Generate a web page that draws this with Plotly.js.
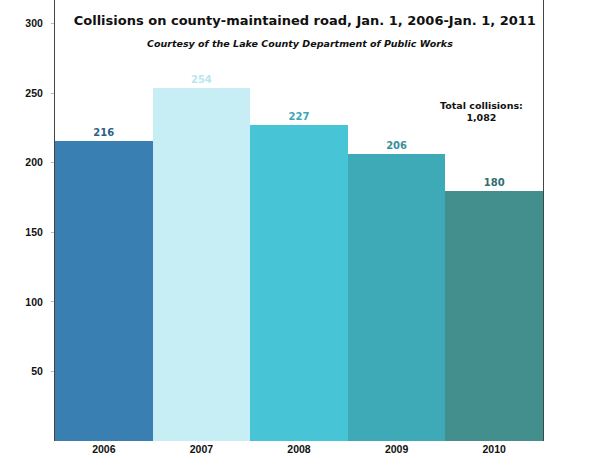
<!DOCTYPE html>
<html>
<head>
<meta charset="utf-8">
<script src="https://cdn.plot.ly/plotly-3.0.1.min.js"></script>
<style>html,body{margin:0;padding:0;background:#fff;}#chart{width:600px;height:469px;}</style>
</head>
<body>
<div id="chart"></div>
<script>
const years = ["2006", "2007", "2008", "2009", "2010"];
const collisions = [216, 254, 227, 206, 180];
const barColors = ["#3a7fb1", "#c7eef4", "#47c5d6", "#3ea9b7", "#428f8d"];
const labelColors = ["#2b5f86", "#b9e6ee", "#3aa6b6", "#3c8f9a", "#2f6f72"];
const yTicks = [50, 100, 150, 200, 250, 300];

const trace = {
  type: "bar",
  x: years,
  y: collisions,
  marker: {color: barColors, line: {width: 0}},
  text: collisions.map(String),
  textposition: "outside",
  cliponaxis: false,
  textfont: {family: "DejaVu Sans", size: 10, color: labelColors, weight: "bold"},
  hoverinfo: "none"
};

const layout = {
  width: 600, height: 469,
  margin: {l: 55, r: 57, t: 0, b: 28, pad: 0},
  paper_bgcolor: "#fff",
  plot_bgcolor: "#fff",
  bargap: 0,
  showlegend: false,
  title: {
    text: "<b>Collisions on county-maintained road, Jan. 1, 2006-Jan. 1, 2011</b>",
    font: {family: "DejaVu Sans", size: 13, color: "#111"},
    x: 0.508, xanchor: "center",
    y: 1 - 20/469, yanchor: "middle",
    xref: "container", yref: "container"
  },
  xaxis: {
    type: "category",
    showline: false,
    ticks: "",
    tickfont: {family: "Liberation Sans", size: 10.5, color: "#111", weight: "bold"},
    showgrid: false,
    zeroline: false
  },
  yaxis: {
    range: [0, 317],
    tickvals: yTicks,
    ticktext: yTicks.map(String),
    tickfont: {family: "Liberation Sans", size: 10.5, color: "#111", weight: "bold"},
    ticks: "outside",
    ticklen: 3,
    tickcolor: "#bbb",
    ticklabelstandoff: 6,
    showline: true,
    mirror: true,
    linecolor: "#444",
    linewidth: 1,
    showgrid: false,
    zeroline: false
  },
  annotations: [
    {
      text: "<i><b>Courtesy of the Lake County Department of Public Works</b></i>",
      xref: "paper", yref: "paper",
      x: (300 - 55) / 488, y: 1 - 44/441,
      xanchor: "center", yanchor: "middle",
      showarrow: false,
      font: {family: "DejaVu Sans", size: 9.5, color: "#111"}
    },
    {
      text: "<b>Total collisions:<br>1,082</b>",
      xref: "paper", yref: "paper",
      x: (481 - 55) / 488, y: 1 - 111/441,
      xanchor: "center", yanchor: "middle",
      showarrow: false,
      align: "center",
      font: {family: "DejaVu Sans", size: 9.5, color: "#111"}
    }
  ]
};

Plotly.newPlot("chart", [trace], layout, {staticPlot: true, displayModeBar: false});
</script>
</body>
</html>
